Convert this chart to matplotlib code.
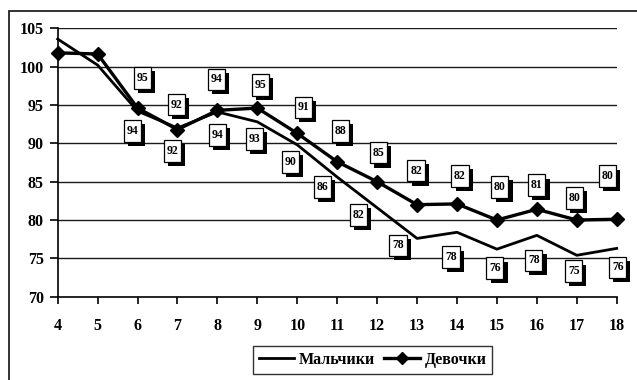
import matplotlib
matplotlib.use("Agg")
import matplotlib.pyplot as plt
import matplotlib.patheffects as pe
from matplotlib.patches import Rectangle
from matplotlib.lines import Line2D
from matplotlib.path import Path

# Age (years) and index values for boys and girls
ages = [4, 5, 6, 7, 8, 9, 10, 11, 12, 13, 14, 15, 16, 17, 18]
boys = [103.6, 100.2, 94.2, 92.0, 94.1, 92.8, 89.8, 85.6, 81.6, 77.6, 78.4, 76.2, 78.0, 75.4, 76.3]
girls = [101.8, 101.65, 94.6, 91.8, 94.3, 94.6, 91.3, 87.6, 85.0, 82.0, 82.1, 80.0, 81.4, 80.0, 80.1]
series_names = ["Мальчики", "Девочки"]
yticks = [70, 75, 80, 85, 90, 95, 100, 105]
first_labelled_age = 6

# Placement of the value boxes (pixel offsets from each point, ages 6..18)
girls_label_offsets = [(5, 30), (-1, 25), (-1, 31), (3, 23), (6, 26), (3, 31), (1, 29),
                       (-1, 34), (3, 28), (3, 33), (0, 24), (-2, 22), (-9, 43)]
boys_label_offsets = [(-5, -20), (-5, -23), (0, -23), (-3, -17), (-7, -17), (-15, -10), (-19, -7),
                      (-19, -7), (-6, -25), (-2, -19), (-3, -25), (-3, -16), (1, -19)]

serif = ["Liberation Serif", "DejaVu Serif"]
plt.rcParams["font.family"] = serif
plt.rcParams["font.weight"] = "bold"

W, H = 637, 380
fig = plt.figure(figsize=(W / 100, H / 100), dpi=100)
fig.patch.set_facecolor("white")

left, right, top, bottom = 57.7, 616.7, 28.3, 296.7
ax = fig.add_axes([left / W, 1 - bottom / H, (right - left) / W, (bottom - top) / H])

# outer chart frame
fig.add_artist(Rectangle((9 / W, -0.2), 1.2, 1 - 11 / H + 0.2, transform=fig.transFigure,
                         fill=False, edgecolor="#222222", linewidth=1.3, clip_on=False))

ax.set_xlim(4, 18)
ax.set_ylim(70, 105)
ax.set_xticks(ages)
ax.set_yticks(yticks)
for v in yticks[1:]:
    ax.axhline(v, color="#1a1a1a", linewidth=1.0, zorder=1)

for s in ("top", "right"):
    ax.spines[s].set_visible(False)
ax.spines["left"].set_linewidth(1.2)
ax.spines["bottom"].set_linewidth(1.2)
ax.tick_params(axis="x", direction="out", length=5, width=1.2, pad=10, labelsize=11.5)
ax.tick_params(axis="y", direction="out", length=6, width=1.2, pad=4, labelsize=11.5)
for lab in ax.get_xticklabels() + ax.get_yticklabels():
    lab.set_fontweight("bold")

ax.plot(ages, boys, color="black", linewidth=2.0, zorder=3, clip_on=False, label=series_names[0])
ax.plot(ages, girls, color="black", linewidth=2.4, marker="D", markersize=7.5,
        zorder=4, clip_on=False, label=series_names[1])


def tall_box(x0, y0, width, height, mutation_size):
    """Fixed-size upright box centred on the text."""
    cx, cy = x0 + width / 2, y0 + height / 2
    bw, bh = 1.45 * mutation_size, 1.83 * mutation_size
    xa, xb = cx - bw / 2, cx + bw / 2
    ya, yb = cy - bh / 2, cy + bh / 2
    return Path([(xa, ya), (xb, ya), (xb, yb), (xa, yb), (xa, ya)], closed=True)


def value_box(x, y, dx, dy):
    t = ax.annotate(f"{y:.0f}", (x, y), xytext=(dx, dy), textcoords="offset pixels",
                    ha="center", va="center", fontsize=8.5, fontweight="bold",
                    bbox=dict(boxstyle=tall_box, facecolor="white",
                              edgecolor="black", linewidth=0.9),
                    zorder=6, annotation_clip=False)
    t.get_bbox_patch().set_path_effects([
        pe.SimplePatchShadow(offset=(3, -3), shadow_rgbFace="black", alpha=1.0),
        pe.Normal()])


start = ages.index(first_labelled_age)
for i, (x, g, b) in enumerate(zip(ages[start:], girls[start:], boys[start:])):
    value_box(x, g, *girls_label_offsets[i])
    value_box(x, b, *boys_label_offsets[i])

handles = [Line2D([], [], color="black", linewidth=2.0),
           Line2D([], [], color="black", linewidth=2.4, marker="D", markersize=6)]
leg = fig.legend(handles, series_names, loc="center", ncol=2,
                 bbox_to_anchor=(372.5 / W, 1 - 360 / H),
                 prop=dict(family=serif, weight="bold", size=11.5),
                 frameon=True, fancybox=False, shadow=False, edgecolor="black",
                 handlelength=2.2, handletextpad=0.3, columnspacing=0.6,
                 borderpad=0.35, borderaxespad=0)
leg.get_frame().set_linewidth(1.0)

fig.savefig("out.png", dpi=100)
